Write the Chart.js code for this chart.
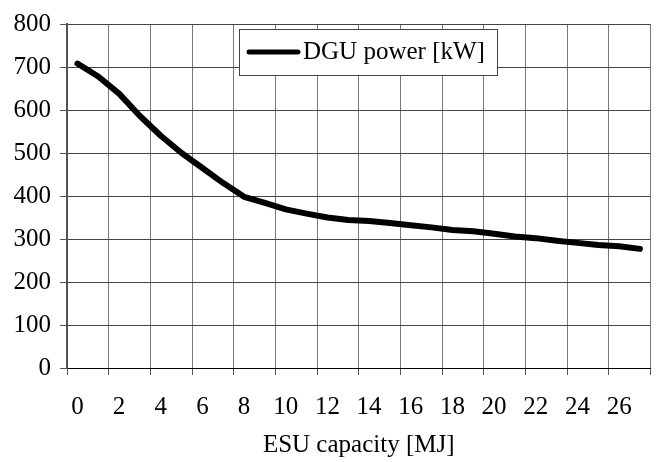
<!DOCTYPE html>
<html>
<head>
<meta charset="utf-8">
<script src="https://cdn.jsdelivr.net/npm/chart.js@4.4.0/dist/chart.umd.min.js"></script>
<style>
  html, body { margin: 0; padding: 0; background: #fff; }
  #wrap { width: 657px; height: 462px; }
</style>
</head>
<body>
<div id="wrap"><canvas id="c" width="657" height="462"></canvas></div>
<script>
// ESU capacity categories [MJ]
const categories = ['0','1','2','3','4','5','6','7','8','9','10','11','12','13','14','15','16','17','18','19','20','21','22','23','24','25','26','27'];
// DGU power [kW]
const dguPower = [708, 678, 638, 586, 540, 500, 465, 430, 398, 384, 369, 359, 350, 344, 342, 337, 332, 327, 321, 318, 312, 306, 302, 296, 291, 286, 283, 277];
// Y tick range
const yMin = 0, yMax = 800, yStep = 100;
const seriesLabel = 'DGU power [kW]';
const xTitle = 'ESU capacity [MJ]';

const FONT = "'Liberation Serif', 'Times New Roman', serif";

const boxLegend = {
  id: 'boxLegend',
  afterDraw(chart) {
    const ctx = chart.ctx;
    const ds = chart.data.datasets[0];
    const x0 = 239.5, y0 = 29.5, w = 258, h = 46;
    ctx.save();
    ctx.fillStyle = '#fff';
    ctx.fillRect(x0, y0, w, h);
    ctx.strokeStyle = '#444';
    ctx.lineWidth = 1;
    ctx.strokeRect(x0, y0, w, h);
    const cy = 52;
    ctx.beginPath();
    ctx.lineCap = 'round';
    ctx.lineWidth = 5;
    ctx.strokeStyle = ds.borderColor;
    ctx.moveTo(249, cy);
    ctx.lineTo(298, cy);
    ctx.stroke();
    ctx.fillStyle = '#000';
    ctx.font = '25px ' + FONT;
    ctx.textBaseline = 'middle';
    ctx.textAlign = 'left';
    ctx.fillText(ds.label, 303, cy);
    ctx.restore();
  }
};

new Chart(document.getElementById('c'), {
  type: 'line',
  data: {
    labels: categories,
    datasets: [{
      label: seriesLabel,
      data: dguPower,
      borderColor: '#000',
      backgroundColor: '#000',
      borderWidth: 6,
      pointRadius: 0,
      tension: 0,
      borderCapStyle: 'round',
      borderJoinStyle: 'round',
      fill: false
    }]
  },
  options: {
    responsive: false,
    animation: false,
    devicePixelRatio: 1,
    layout: { padding: { top: 18, right: 2, left: 0, bottom: 0 } },
    plugins: {
      legend: { display: false },
      tooltip: { enabled: false }
    },
    scales: {
      x: {
        type: 'category',
        offset: true,
        grid: {
          offset: true,
          color: (c) => (c.index === undefined || c.index % 2 === 0) ? '#777' : 'rgba(0,0,0,0)',
          tickColor: (c) => (c.index === undefined || c.index % 2 === 0) ? '#555' : 'rgba(0,0,0,0)',
          tickLength: 7,
          lineWidth: 1
        },
        border: { color: '#000', width: 1 },
        ticks: {
          autoSkip: false,
          maxRotation: 0,
          minRotation: 0,
          padding: 17,
          color: '#000',
          font: { family: FONT, size: 25 },
          callback: function (v, i) { return i % 2 === 0 ? categories[i] : ''; }
        },
        title: {
          display: true,
          text: xTitle,
          color: '#000',
          font: { family: FONT, size: 25 },
          padding: { top: 0, bottom: 2 }
        },
        afterFit: (s) => { s.height = 94; }
      },
      y: {
        min: yMin,
        max: yMax,
        ticks: {
          stepSize: yStep,
          padding: 9,
          color: '#000',
          font: { family: FONT, size: 25 }
        },
        grid: {
          color: '#444',
          tickColor: '#555',
          tickLength: 7,
          lineWidth: 1
        },
        border: { color: '#555', width: 2 },
        afterFit: (s) => { s.width = 67; }
      }
    }
  },
  plugins: [boxLegend]
});
</script>
</body>
</html>
